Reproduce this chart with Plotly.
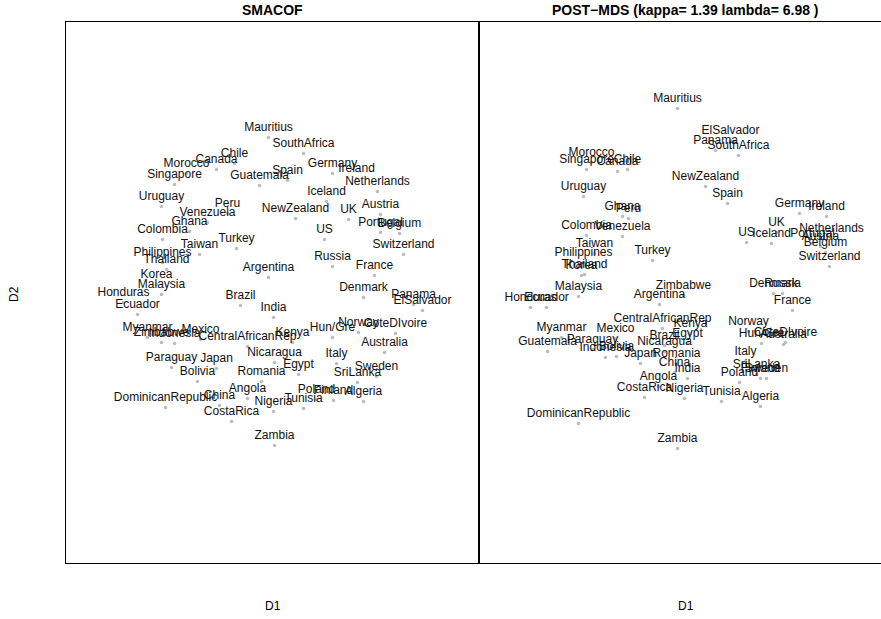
import plotly.graph_objects as go

# ---- SMACOF configuration (D1, D2) ----
smacof_names = [
    "Mauritius", "SouthAfrica", "Chile", "Canada", "Morocco", "Singapore", "Guatemala",
    "Spain", "Germany", "Ireland", "Netherlands", "Iceland", "Austria", "NewZealand",
    "UK", "Portugal", "Belgium", "Switzerland", "US", "Russia", "France", "Denmark",
    "Panama", "ElSalvador", "Peru", "Uruguay", "Venezuela", "Ghana", "Colombia",
    "Taiwan", "Turkey", "Philippines", "Thailand", "Argentina", "Korea", "Malaysia",
    "Honduras", "Ecuador", "Brazil", "India", "Myanmar", "Zimbabwe", "Indonesia",
    "Mexico", "CentralAfricanRep", "Kenya", "Hun/Gre", "Norway", "CoteDIvoire",
    "Australia", "Nicaragua", "Italy", "Egypt", "Sweden", "SriLanka", "Romania",
    "Paraguay", "Japan", "Bolivia", "Poland", "Finland", "Algeria", "Tunisia",
    "Angola", "China", "DominicanRepublic", "Nigeria", "CostaRica", "Zambia",
]
smacof_d1 = [
    -0.04, 0.31, -0.38, -0.56, -0.86, -0.98, -0.13,
    0.15, 0.60, 0.84, 1.05, 0.54, 1.08, 0.23,
    0.76, 1.08, 1.27, 1.31, 0.52, 0.60, 1.02, 0.91,
    1.41, 1.50, -0.45, -1.11, -0.65, -0.83, -1.10,
    -0.73, -0.36, -1.10, -1.06, -0.04, -1.16, -1.11,
    -1.49, -1.35, -0.32, 0.01, -1.25, -1.11, -0.98,
    -0.72, -0.25, 0.20, 0.60, 0.86, 1.23,
    1.12, 0.02, 0.64, 0.26, 1.04, 0.85, -0.11,
    -1.01, -0.56, -0.75, 0.44, 0.61, 0.91, 0.31,
    -0.25, -0.53, -1.07, 0.01, -0.41, 0.02,
]
smacof_d2 = [
    1.55, 1.39, 1.29, 1.23, 1.19, 1.08, 1.07,
    1.12, 1.19, 1.14, 1.01, 0.91, 0.78, 0.74,
    0.73, 0.60, 0.59, 0.38, 0.53, 0.26, 0.17, -0.05,
    -0.12, -0.18, 0.79, 0.86, 0.70, 0.61, 0.53,
    0.38, 0.44, 0.30, 0.23, 0.15, 0.08, -0.02,
    -0.10, -0.22, -0.13, -0.25, -0.45, -0.50, -0.51,
    -0.47, -0.54, -0.50, -0.45, -0.40, -0.41,
    -0.60, -0.70, -0.71, -0.82, -0.84, -0.90, -0.89,
    -0.75, -0.76, -0.89, -1.07, -1.08, -1.09, -1.16,
    -1.06, -1.13, -1.15, -1.19, -1.29, -1.53,
]

# ---- POST-MDS configuration (D1, D2) ----
post_names = [
    "Mauritius", "ElSalvador", "Panama", "SouthAfrica", "Morocco", "Singapore",
    "Canada", "Chile", "NewZealand", "Spain", "Uruguay", "Germany", "Ireland",
    "Ghana", "Peru", "UK", "Netherlands", "US", "Iceland", "Portugal", "Austria",
    "Belgium", "Switzerland", "Colombia", "Venezuela", "Taiwan", "Philippines",
    "Turkey", "Thailand", "Korea", "Malaysia", "Honduras", "Ecuador", "Zimbabwe",
    "Argentina", "Denmark", "Russia", "France", "CentralAfricanRep", "Kenya",
    "Myanmar", "Mexico", "Egypt", "Brazil", "Norway", "Hun/Gre", "CoteDIvoire",
    "Australia", "Guatemala", "Paraguay", "Indonesia", "Bolivia", "Nicaragua",
    "Japan", "Romania", "Italy", "China", "India", "SriLanka", "Poland", "Sweden",
    "Finland", "Angola", "CostaRica", "Nigeria", "Tunisia", "Algeria",
    "DominicanRepublic", "Zambia",
]
post_d1 = [
    -0.08, 0.45, 0.30, 0.53, -0.94, -0.99,
    -0.68, -0.58, 0.20, 0.42, -1.02, 1.14, 1.41,
    -0.63, -0.57, 0.91, 1.46, 0.61, 0.86, 1.27, 1.35,
    1.40, 1.44, -0.99, -0.63, -0.91, -1.02,
    -0.33, -1.01, -1.04, -1.07, -1.55, -1.39, -0.02,
    -0.26, 0.88, 0.97, 1.07, -0.23, 0.05,
    -1.24, -0.70, 0.02, -0.21, 0.63, 0.76, 1.00,
    0.98, -1.38, -0.93, -0.80, -0.69, -0.21,
    -0.45, -0.09, 0.60, -0.11, 0.02, 0.71, 0.54, 0.81,
    0.75, -0.27, -0.41, -0.01, 0.36, 0.75,
    -1.07, -0.08,
]
post_d2 = [
    1.84, 1.52, 1.42, 1.37, 1.30, 1.23,
    1.21, 1.23, 1.06, 0.89, 0.96, 0.79, 0.76,
    0.76, 0.74, 0.60, 0.54, 0.50, 0.49, 0.49, 0.46,
    0.40, 0.26, 0.57, 0.56, 0.39, 0.30,
    0.32, 0.18, 0.17, -0.04, -0.15, -0.15, -0.03,
    -0.12, -0.01, -0.01, -0.18, -0.36, -0.41,
    -0.45, -0.46, -0.51, -0.53, -0.39, -0.51, -0.50,
    -0.52, -0.59, -0.57, -0.65, -0.64, -0.59,
    -0.71, -0.71, -0.69, -0.80, -0.86, -0.82, -0.90, -0.86,
    -0.86, -0.94, -1.05, -1.06, -1.09, -1.14,
    -1.31, -1.56,
]

panel_titles = ["SMACOF", "POST\u2212MDS (kappa= 1.39 lambda= 6.98 )"]
axis_x_title = "D1"
axis_y_title = "D2"

W, H = 881, 619
ML, MR, MT, MB = 66, 0, 22, 56
split = 413 / (W - ML - MR)

label_font = dict(family="Liberation Sans, Arial, sans-serif", size=12, color="#111111")
dot_style = dict(size=3.5, color="#bcbcbc")

fig = go.Figure()
fig.add_trace(go.Scatter(
    x=smacof_d1, y=smacof_d2, text=smacof_names, mode="markers+text",
    textposition="top center", textfont=label_font, marker=dot_style,
    cliponaxis=False, xaxis="x", yaxis="y", showlegend=False, hoverinfo="text",
))
fig.add_trace(go.Scatter(
    x=post_d1, y=post_d2, text=post_names, mode="markers+text",
    textposition="top center", textfont=label_font, marker=dot_style,
    cliponaxis=False, xaxis="x2", yaxis="y2", showlegend=False, hoverinfo="text",
))

hidden = dict(showticklabels=False, showgrid=False, zeroline=False, ticks="")
line = dict(showline=True, linecolor="black", linewidth=1)

fig.update_layout(
    width=W, height=H,
    margin=dict(l=ML, r=MR, t=MT, b=MB),
    paper_bgcolor="white", plot_bgcolor="white",
    xaxis=dict(domain=[0, split], range=[-2.065, 2.065], mirror=True, **line, **hidden),
    yaxis=dict(domain=[0, 1], range=[-2.705, 2.705], mirror=True, **line, **hidden),
    xaxis2=dict(domain=[split, 1], range=[-2.065, 1.955], mirror=True, anchor="y2", **line, **hidden),
    yaxis2=dict(domain=[0, 1], range=[-2.705, 2.705], mirror=False, anchor="x2", **line, **hidden),
)

pw = W - ML - MR
ph = H - MT - MB
def px(xp):
    return (xp - ML) / pw
def py(yp):
    return (H - MB - yp) / ph

title_font = dict(family="Liberation Sans, Arial, sans-serif", size=14, color="black")
axis_font = dict(family="Liberation Sans, Arial, sans-serif", size=12, color="black")
annotations = [
    dict(x=px(272.5), y=py(10), text="<b>%s</b>" % panel_titles[0], font=title_font),
    dict(x=px(685.5), y=py(10), text="<b>%s</b>" % panel_titles[1], font=title_font),
    dict(x=px(272.5), y=py(606), text=axis_x_title, font=axis_font),
    dict(x=px(685.5), y=py(606), text=axis_x_title, font=axis_font),
    dict(x=px(14), y=py(294), text=axis_y_title, font=axis_font, textangle=-90),
]
for a in annotations:
    a.update(xref="paper", yref="paper", showarrow=False, xanchor="center", yanchor="middle")
fig.update_layout(annotations=annotations)

fig.write_html("out.html")
